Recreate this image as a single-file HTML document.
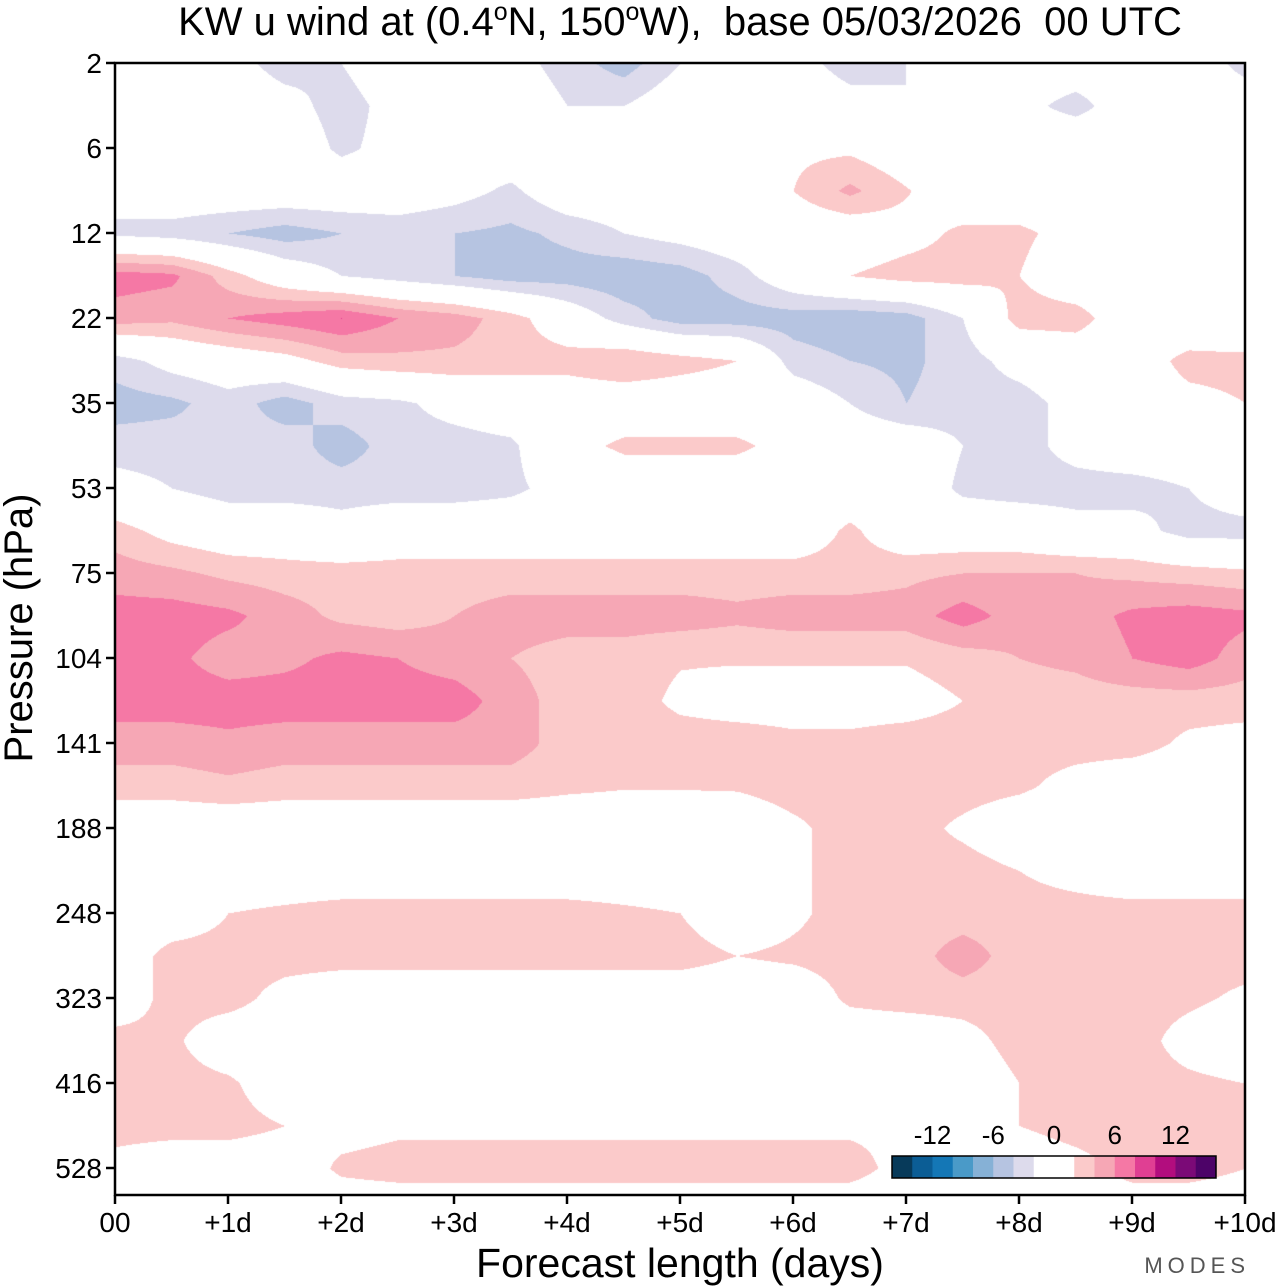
<!DOCTYPE html>
<html><head><meta charset="utf-8"><style>
body{margin:0;background:#fff;width:1280px;height:1286px;overflow:hidden;font-family:"Liberation Sans",sans-serif}
#wrap{position:relative;width:1280px;height:1286px}
canvas{position:absolute;left:115px;top:63px}
svg{position:absolute;left:0;top:0}
</style></head><body><div id="wrap">
<canvas id="cv" width="1130" height="1132"></canvas>
<svg id="sv" width="1280" height="1286"></svg>
</div>
<script>
// x grid: forecast day for each column; y grid: half-tick pressure rows
const dayCols = [0,0.5,1,1.5,2,2.5,3,3.5,4,4.5,5,5.5,6,6.5,7,7.5,8,8.5,9,9.5,10];
const pressureTicks = ["2","6","12","22","35","53","75","104","141","188","248","323","416","528"];
const dayTicks = ["00","+1d","+2d","+3d","+4d","+5d","+6d","+7d","+8d","+9d","+10d"];
const cbarLabels = ["-12","-6","0","6","12"];
const cbarLabelVals = [-12,-6,0,6,12];
const levelColors = ["#073a5a","#0b5d95","#1477b6","#4a9ac8","#86b1d6","#b6c4e1","#dddbec","#ffffff","#ffffff","#fbcaca","#f6a7b5","#f578a5","#e03f93","#b20d7e","#7b0a77","#4d0368"];
const u_r00=[0,0,-1,-3,-2,0,0,-1,-3,-5,-2,0,-1,-3,-2,0,0,0,0,0,-3];
const u_r01=[0,0,0,-1,-3,-1,0,0,-2,-2,0,0,0,-1,-2,0,-1,-3,0,0,0];
const u_r02=[0,0,0,0,-2.5,-1,-1,0,0,1.5,1.5,1.5,1.5,1.5,0,0,0,1,0,0,0];
const u_r03=[-1,0,0,0,0,0,-1,-2.5,0,0,0,0,2,4.5,2.2,0,0,0,0,0,0];
const u_r04=[-2.5,-3,-4,-5,-4,-3.5,-4,-4.5,-3.5,-2,-1,0,0,0,1,2.5,2.5,1,0,0,0];
const u_r05=[7,6.5,3,0,-2,-3,-4,-5,-5,-5.5,-5,-3,0,2,3,3,2,0,0,0,-2];
const u_r06=[5,4.5,6,7,8,6,5,3,0,-3,-5,-5,-5,-5.5,-5,-2,3,3,0,-1,-2];
const u_r07=[-3,-1,0,1,3,3.5,3.5,3,3,4,3,2,-3,-4,-4.5,-3,-1,0,0,3,3];
const u_r08=[-5,-4.5,-3,-5,-3,-2.5,-1,0,0,0,0,0,0,-2,-4,-3,-3,-1,0,1,2];
const u_r09=[-3,-3,-3.5,-3,-5,-3,-3,-2.5,1,2.5,2.5,2.5,1,0,0,-2,-3,-1,0,0,1];
const u_r10=[-1,-2,-3,-3,-3,-3,-3,-2.5,-1,0,0,0,0,0,0,-2.5,-3,-3,-3,-2,0];
const u_r11=[3,1,0,0,-1,0,0,0,0,0,0,0,0,2.5,0,0,0,-1,-1,-3,-3];
const u_r12=[5,4.5,3.5,3,3,3,3,3,3,3,3,3,3,3,3.5,4,4,4,3.5,3,2.5];
const u_r13=[7,7,6.5,5,3.5,3,4,5,5,5,5,4.5,5,5,5,7,5,5,6.5,7,6.5];
const u_r14=[7,6.5,5,5.5,6.5,6,5,4,3,3,2.2,2.2,2.2,2.2,2.2,3,4,4.5,6,7,5];
const u_r15=[7,7,7,7,7,7,7,5,3,3,1.5,1,1,1,1,2,3,3,3,3,3];
const u_r16=[5,5,5.5,5,5,5,5,5,3,3,3,3,2.5,2.5,3,3,3,3,3,1.5,1];
const u_r17=[3,3,3.5,3,3,3,3,3,2.5,2.2,2.2,2.3,3,3,3,3,2.5,1,0,0,0];
const u_r18=[0,0,0,0,0,0,0,0,0,0,0,0,1.5,3,3,1.5,0,0,0,0,0];
const u_r19=[0,0,0,0,0,0,0,0,0,0,0,0,1.5,3,3,3,2,1,0,0,0];
const u_r20=[0,0,2,2.5,3,3,3,3,3,2.5,2,0,1.5,3,3,3,3,3,3,3,3];
const u_r21=[0,3,3,3,3,3,3,3,3,3,3,2,2.5,3,3,5,3,3,3,3,3];
const u_r22=[0,3,3,1,0,0,0,0,0,0,0,0,0,2.5,3,3,3,3,3,2.5,1.5];
const u_r23=[3,2.5,0,0,0,0,0,0,0,0,0,0,0,0,0,1,3,3,3,1,0];
const u_r24=[3,3,2.5,0,0,0,0,0,0,0,0,0,0,0,0,0,2,3,3,2.5,2];
const u_r25=[3,3,3,2,1,1.5,1.5,1.5,1.5,1.5,1.5,1.5,1.5,1.5,1.5,0,2,3,3,3,3];
const u_r26=[1,0,0,0,2.5,3,3,3,3,3,3,3,3,3,1,0,0,1,3,3,2];
const u_r27=[0,0,0,0,0,0,0,0,0,0,0,0,0,0,0,0,0,0,0,0,0];
const uGrid=[u_r00,u_r01,u_r02,u_r03,u_r04,u_r05,u_r06,u_r07,u_r08,u_r09,u_r10,u_r11,u_r12,u_r13,u_r14,u_r15,u_r16,u_r17,u_r18,u_r19,u_r20,u_r21,u_r22,u_r23,u_r24,u_r25,u_r26,u_r27];

const X0=115,X1=1245,Y0=63,Y1=1195,TICK=85;
const xScale=d=>X0+(d/10)*(X1-X0);
const yScale=r=>Y0+r*TICK/2;
function hex(c){return [parseInt(c.substr(1,2),16),parseInt(c.substr(3,2),16),parseInt(c.substr(5,2),16)];}
const rgb=levelColors.map(hex);
function colorIdx(v){let i=Math.floor(v/2)+8;return Math.max(0,Math.min(15,i));}
(function(){
  const cv=document.getElementById('cv'),ctx=cv.getContext('2d');
  const W=cv.width,H=cv.height,img=ctx.createImageData(W,H),d=img.data;
  const nc=dayCols.length,nr=uGrid.length;
  const colPx=dayCols.map(xScale);
  for(let py=0;py<H;py++){
    const gy=py/(TICK/2);
    let r0=Math.min(nr-2,Math.floor(gy)),fy=Math.min(1,gy-r0);
    for(let px=0;px<W;px++){
      const X=px+X0;
      let c0=0;while(c0<nc-2&&colPx[c0+1]<=X)c0++;
      const fx=Math.min(1,Math.max(0,(X-colPx[c0])/(colPx[c0+1]-colPx[c0])));
      const a=uGrid[r0][c0],b=uGrid[r0][c0+1],c=uGrid[r0+1][c0],e=uGrid[r0+1][c0+1];
      const v=(a*(1-fx)+b*fx)*(1-fy)+(c*(1-fx)+e*fx)*fy;
      const col=rgb[colorIdx(v)],k=(py*W+px)*4;
      d[k]=col[0];d[k+1]=col[1];d[k+2]=col[2];d[k+3]=255;
    }
  }
  ctx.putImageData(img,0,0);
})();
const NS="http://www.w3.org/2000/svg",sv=document.getElementById('sv');
function mk(t,a,txt){const e=document.createElementNS(NS,t);for(const k in a)e.setAttribute(k,a[k]);if(txt!=null)e.textContent=txt;sv.appendChild(e);return e;}
let f=mk('rect',{x:X0,y:Y0,width:X1-X0,height:Y1-Y0,fill:'none',stroke:'#000','stroke-width':2.5});


pressureTicks.forEach((p,i)=>{
  const y=yScale(i*2);
  let l=mk('line',{x1:X0-9,x2:X0,y1:y,y2:y,stroke:'#000','stroke-width':2.5});
  
  
  let t=mk('text',{x:X0-13,y:y+10,'text-anchor':'end','font-size':28,fill:'#000'},p);
  
  
});
dayTicks.forEach((s,i)=>{
  const x=xScale(i);
  let l=mk('line',{x1:x,x2:x,y1:Y1,y2:Y1+9,stroke:'#000','stroke-width':2.5});
  
  
  let t=mk('text',{x:x,y:Y1+37,'text-anchor':'middle','font-size':28,fill:'#000'},s);
  
  
});
let yt=mk('text',{x:0,y:0,transform:'translate(32,628) rotate(-90)','text-anchor':'middle','font-size':40,fill:'#000'},'Pressure (hPa)');


let xt=mk('text',{x:680,y:1277,'text-anchor':'middle','font-size':41,fill:'#000'},'Forecast length (days)');


let tt=mk('text',{x:680,y:35,'text-anchor':'middle','font-size':40,fill:'#000'});


tt.innerHTML='KW u wind at (0.4<tspan dy="-15" font-size="25">o</tspan><tspan dy="15">N, 150</tspan><tspan dy="-15" font-size="25">o</tspan><tspan dy="15" xml:space="preserve">W),  base 05/03/2026  00 UTC</tspan>';
const CB0=892,CBW=324/16,CBY=1156,CBH=22;
levelColors.forEach((c,i)=>{
  let r=mk('rect',{x:CB0+i*CBW,y:CBY,width:CBW+0.5,height:CBH,fill:c});
  
  
});
let cb=mk('rect',{x:CB0,y:CBY,width:324,height:CBH,fill:'none',stroke:'#000','stroke-width':1.5});


cbarLabels.forEach((s,i)=>{
  const x=CB0+162+cbarLabelVals[i]/2*CBW;
  let t=mk('text',{x:x,y:1144,'text-anchor':'middle','font-size':26,fill:'#000'},s);
  
  
});
let lg=mk('text',{x:1250,y:1273,'text-anchor':'end','font-size':22,fill:'#555','letter-spacing':'5'},'MODES');


</script></body></html>
